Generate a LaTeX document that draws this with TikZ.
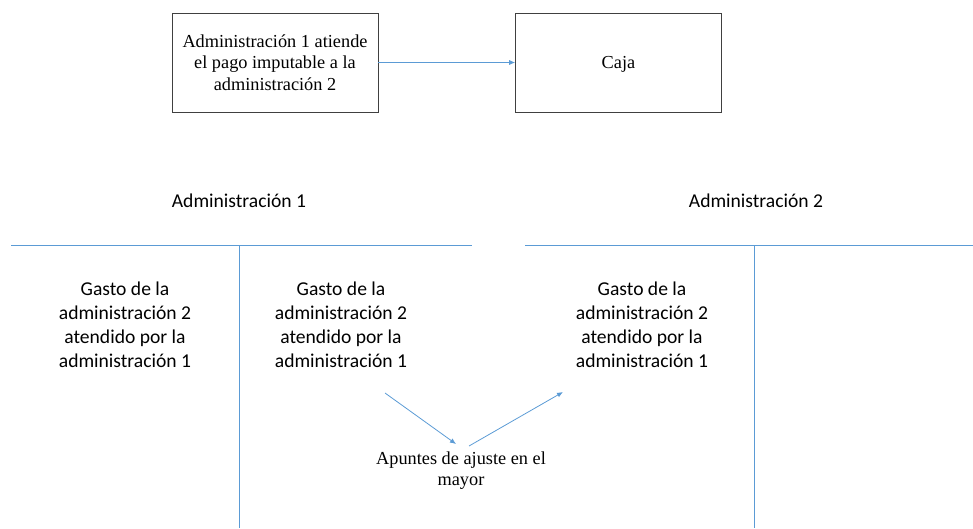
\documentclass[tikz,border=0pt]{standalone}
\usepackage{fontspec}
\setmainfont{Liberation Serif}
\newfontfamily\calib{Carlito}
\usetikzlibrary{arrows.meta}
\definecolor{lblue}{RGB}{91,155,213}
\begin{document}
\begin{tikzpicture}[x=1pt,y=-1pt,
  boxnode/.style={draw=black!75,line width=0.6pt,minimum width=206pt,minimum height=99pt,align=center,inner sep=0pt,font=\fontsize{18.3}{21.5}\selectfont},
  cal/.style={align=center,inner sep=0pt,font=\calib\fontsize{19.6}{24}\selectfont},
  tline/.style={lblue,line width=0.8pt},
  conn/.style={lblue,line width=0.8pt,-{Latex[length=6pt,width=5pt]}}]
\useasboundingbox (0,0) rectangle (973,528);
\node[boxnode] (b1) at (275,62.5) {Administración 1 atiende\\el pago imputable a la\\administración 2};
\node[boxnode,text height=12pt,text depth=0pt] (b2) at (618.5,62.5) {Caja};
\draw[conn] (b1.east) -- (b2.west);

\node[cal] (h1) at (239,201) {Administración 1};
\node[cal] (h2) at (756,201) {Administración 2};

\coordinate (l1a) at (11,245); \coordinate (l1b) at (472,245);
\coordinate (v1a) at (239,245); \coordinate (v1b) at (239,528);
\coordinate (l2a) at (525,245); \coordinate (l2b) at (973,245);
\coordinate (v2a) at (754,245); \coordinate (v2b) at (754,528);
\draw[tline] (l1a) -- (l1b);
\draw[tline] (v1a) -- (v1b);
\draw[tline] (l2a) -- (l2b);
\draw[tline] (v2a) -- (v2b);

\node[cal] (g1) at (125,325) {Gasto de la\\administración 2\\atendido por la\\administración 1};
\node[cal] (g2) at (341,325) {Gasto de la\\administración 2\\atendido por la\\administración 1};
\node[cal] (g3) at (642,325) {Gasto de la\\administración 2\\atendido por la\\administración 1};

\node[align=center,inner sep=0pt,font=\fontsize{18.3}{21}\selectfont] (ap) at (461,471) {Apuntes de ajuste en el\\mayor};
\coordinate (s1) at (385,393);
\coordinate (e1) at (456,444);
\coordinate (s2) at (469,446);
\coordinate (e2) at (563,392);
\draw[conn] (s1) -- (e1);
\draw[conn] (s2) -- (e2);
\end{tikzpicture}
\end{document}
